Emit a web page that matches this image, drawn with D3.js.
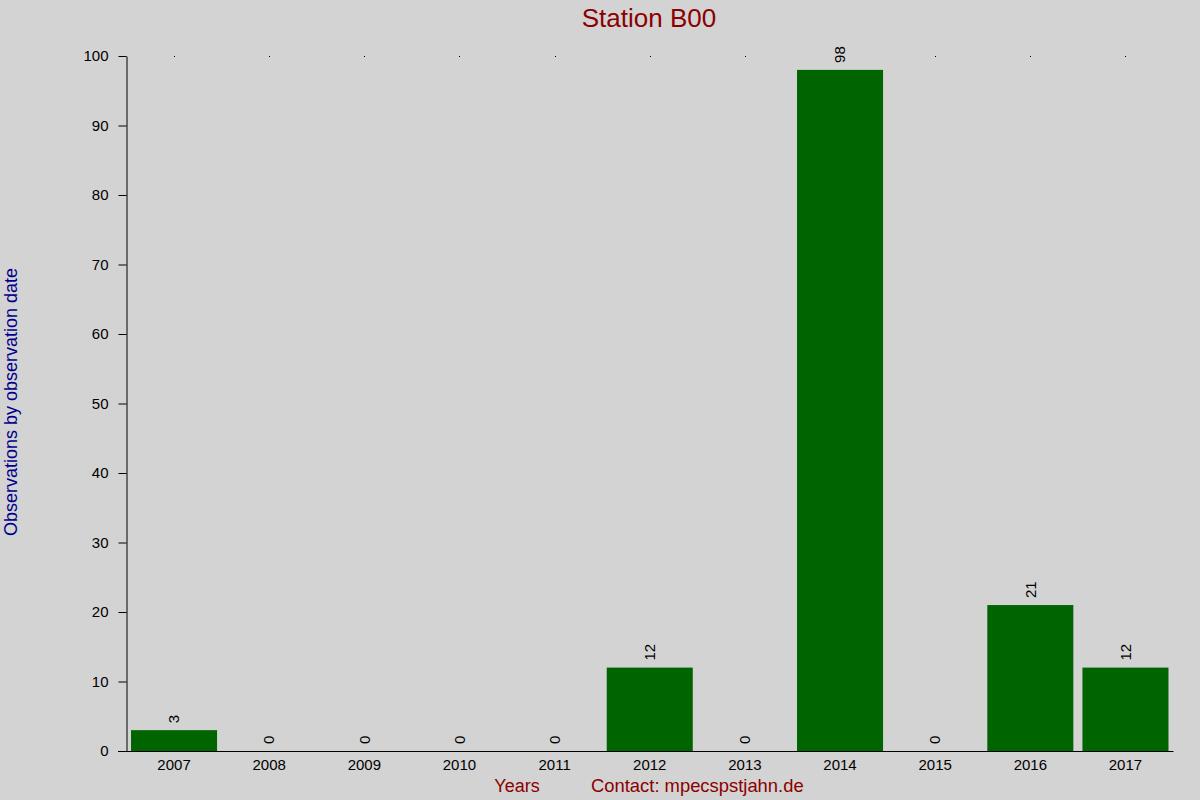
<!DOCTYPE html>
<meta charset="utf-8">
<head>
    <title>Station B00</title>
    <style>
        body { margin: 0; background: #d3d3d3; }
        svg { display: block; font-family: "Liberation Sans", Arial, sans-serif; }
    </style>
</head>
<body>
    <script src="https://d3js.org/d3.v7.min.js"></script>
    <script>
        // chart data
        var years = ["2007", "2008", "2009", "2010", "2011", "2012", "2013", "2014", "2015", "2016", "2017"];
        var counts = [3, 0, 0, 0, 0, 12, 0, 98, 0, 21, 12];
        var yTicks = [0, 10, 20, 30, 40, 50, 60, 70, 80, 90, 100];

        var W = 1200, H = 800;
        var margin = { top: 56, right: 27, bottom: 49, left: 126.5 };
        var width = W - margin.left - margin.right,
            height = H - margin.top - margin.bottom;

        var svg = d3.select("body").append("svg")
            .attr("width", W)
            .attr("height", H);

        svg.append("rect")
            .attr("width", W).attr("height", H)
            .attr("fill", "#d3d3d3");

        var g = svg.append("g")
            .attr("transform", "translate(" + margin.left + "," + margin.top + ")");

        var x = d3.scaleBand().domain(years).range([0, width]).paddingInner(0.0957).paddingOuter(0.0475);
        var y = d3.scaleLinear().domain([0, 100]).range([height, 0]);

        // y axis
        var yAxis = g.append("g")
            .call(d3.axisLeft(y).tickValues(yTicks).tickSize(8).tickPadding(10).tickSizeOuter(0))
            .attr("font-family", "Liberation Sans, Arial, sans-serif");
        yAxis.selectAll("text").style("font-size", "15px").attr("fill", "#000");
        yAxis.selectAll("line").attr("stroke", "#000");
        yAxis.select(".domain").attr("stroke", "#000");

        // x axis (no tick marks)
        var xAxis = g.append("g")
            .attr("transform", "translate(0," + height + ")")
            .call(d3.axisBottom(x).tickSize(0).tickPadding(8))
            .attr("font-family", "Liberation Sans, Arial, sans-serif");
        xAxis.selectAll("text").style("font-size", "15px").attr("fill", "#000");
        xAxis.select(".domain").remove();
        xAxis.append("line")
            .attr("x1", -8.5).attr("x2", width + 0.5)
            .attr("y1", 0.5).attr("y2", 0.5)
            .attr("stroke", "#000");

        // small dots along the top
        g.selectAll(".topdot")
            .data(years)
            .enter().append("rect")
            .attr("class", "topdot")
            .attr("x", d => Math.round(margin.left + x(d) + x.bandwidth() / 2) - margin.left)
            .attr("y", 0)
            .attr("width", 1).attr("height", 1)
            .attr("shape-rendering", "crispEdges")
            .attr("fill", "#000");

        // bars
        g.selectAll(".bar")
            .data(counts)
            .enter().append("rect")
            .attr("class", "bar")
            .attr("x", (d, i) => x(years[i]))
            .attr("y", d => y(d))
            .attr("width", x.bandwidth())
            .attr("height", d => height - y(d))
            .attr("fill", "#006400");

        // value labels
        g.selectAll(".val")
            .data(counts)
            .enter().append("text")
            .attr("class", "val")
            .attr("transform", (d, i) => "translate(" + (x(years[i]) + x.bandwidth() / 2) + "," + (y(d) - 7) + ") rotate(-90)")
            .attr("dy", "0.35em")
            .style("font-size", "15px")
            .attr("fill", "#000")
            .text(d => d);

        // titles
        svg.append("text")
            .attr("x", 649).attr("y", 27)
            .attr("text-anchor", "middle")
            .style("font-size", "26px")
            .attr("fill", "#8b0000")
            .text("Station B00");

        svg.append("text")
            .attr("transform", "translate(17,402) rotate(-90)")
            .attr("text-anchor", "middle")
            .style("font-size", "18px")
            .attr("fill", "#00008b")
            .text("Observations by observation date");

        svg.append("text")
            .attr("x", 517).attr("y", 792)
            .attr("text-anchor", "middle")
            .style("font-size", "18px")
            .attr("fill", "#8b0000")
            .text("Years");

        svg.append("text")
            .attr("x", 591).attr("y", 792)
            .style("font-size", "18.4px")
            .attr("fill", "#8b0000")
            .text("Contact: mpecspstjahn.de");
    </script>
</body>
</html>
